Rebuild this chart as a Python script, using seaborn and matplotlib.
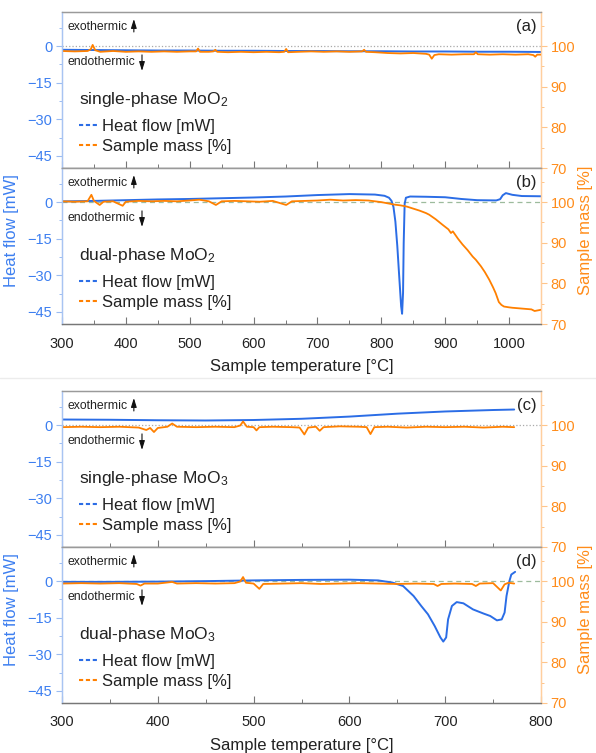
import matplotlib
matplotlib.use("Agg")
import matplotlib.pyplot as plt
from matplotlib.lines import Line2D
from matplotlib.ticker import MultipleLocator, FixedLocator
import seaborn as sns

sns.set_theme(style="white")
plt.rcParams['font.family'] = ['Liberation Sans', 'DejaVu Sans']
plt.rcParams['mathtext.fontset'] = 'custom'
plt.rcParams['mathtext.rm'] = 'Liberation Sans'
plt.rcParams['mathtext.it'] = 'Liberation Sans:italic'

# ---------------- data ----------------
a_hf_T = [300, 350, 400, 450, 500, 550, 600, 650, 700, 750, 800, 850, 900, 950, 1000, 1050]
a_hf = [-1.5, -1.6, -1.7, -1.8, -1.8, -1.9, -1.9, -2.0, -2.0, -2.1, -2.1, -2.2, -2.2, -2.3, -2.3, -2.4]
a_m_T = [300, 320, 340, 345, 348, 352, 360, 380, 400, 420, 440, 460, 480, 500, 510, 513, 516, 530, 537, 540,
         543, 560, 580, 600, 620, 640, 648, 651, 654, 670, 690, 710, 730, 750, 770, 773, 776, 790, 810, 830,
         850, 870, 875, 879, 883, 890, 910, 930, 945, 948, 951, 970, 990, 1010, 1030, 1038, 1041, 1044, 1050]
a_m = [98.8, 98.7, 98.8, 99.2, 100.3, 99.0, 98.6, 98.8, 98.6, 98.7, 98.6, 98.7, 98.6, 98.7, 98.7, 99.4, 98.6,
       98.6, 98.7, 99.1, 98.6, 98.5, 98.6, 98.5, 98.6, 98.5, 98.6, 99.3, 98.5, 98.6, 98.7, 98.6, 98.7, 98.6,
       98.7, 99.1, 98.6, 98.5, 98.3, 98.2, 98.3, 98.1, 97.9, 96.9, 97.8, 98.0, 97.9, 98.0, 98.0, 98.5, 98.0,
       97.9, 98.0, 97.9, 98.0, 97.8, 97.4, 97.9, 97.9]

b_hf_T = [300, 350, 400, 450, 500, 550, 600, 650, 700, 750, 790, 805, 812, 816, 819, 822, 825, 828, 831,
          832.5, 834, 835, 836.5, 838.5, 845, 870, 900, 925, 950, 980, 986, 990, 995, 1005, 1020, 1050]
b_hf = [0.3, 0.5, 0.8, 1.1, 1.3, 1.6, 1.9, 2.3, 2.9, 3.3, 3.1, 2.6, 1.8, 0.5, -2.0, -8.0, -18.0, -30.5,
        -42.7, -45.8, -37.2, -16.9, -0.7, 1.8, 2.3, 2.2, 2.0, 1.3, 0.8, 0.7, 1.2, 2.8, 3.7, 3.0, 2.5, 2.4]
b_m_T = [300, 320, 340, 346, 350, 359, 365, 380, 395, 400, 420, 440, 460, 480, 500, 515, 530, 541, 550,
         570, 590, 610, 630, 651, 660, 680, 700, 720, 740, 760, 780, 800, 810, 820, 830, 840, 850, 860, 870,
         875, 885, 896, 905, 909, 912, 920, 927, 935, 943, 948, 956, 962, 969, 975, 979, 984, 988, 992,
         1000, 1005, 1020, 1035, 1040, 1050]
b_m = [100.2, 100.1, 100.2, 101.8, 100.3, 99.3, 100.1, 100.2, 99.1, 100.1, 100.3, 100.2, 100.3, 100.2,
       100.4, 100.6, 100.2, 99.3, 100.2, 100.3, 100.2, 100.1, 100.3, 99.3, 100.2, 100.3, 100.4, 100.6,
       100.4, 100.5, 100.4, 100.0, 99.7, 99.4, 99.2, 98.9, 98.4, 97.9, 97.3, 96.9, 95.8, 94.4, 93.3, 92.4,
       92.8, 91.0, 89.6, 88.2, 86.6, 85.8, 84.2, 82.8, 80.9, 79.0, 77.6, 75.4, 74.7, 74.3, 74.1, 74.0,
       73.8, 73.6, 73.2, 73.5]

c_hf_T = [300, 350, 400, 450, 500, 550, 600, 650, 700, 750, 772]
c_hf = [2.3, 2.2, 2.0, 1.9, 2.1, 2.6, 3.5, 4.7, 5.6, 6.2, 6.4]
c_m_T = [300, 320, 340, 360, 380, 388, 392, 396, 400, 410, 415, 420, 440, 460, 480, 486, 489, 493, 500,
         503, 506, 520, 540, 548, 553, 557, 565, 569, 573, 590, 610, 618, 622, 626, 640, 660, 680, 700,
         720, 740, 760, 772]
c_m = [99.5, 99.6, 99.5, 99.6, 99.4, 98.8, 99.3, 98.3, 99.3, 99.6, 100.4, 99.6, 99.5, 99.6, 99.5, 99.9,
       100.9, 99.6, 99.5, 98.7, 99.5, 99.6, 99.5, 99.4, 97.7, 99.4, 99.6, 98.6, 99.5, 99.7, 99.6, 99.5,
       97.8, 99.5, 99.6, 99.4, 99.6, 99.5, 99.6, 99.4, 99.6, 99.5]

d_hf_T = [300, 350, 400, 450, 500, 550, 600, 630, 645, 656, 667, 675, 682, 689, 695, 698, 701, 703, 707,
          712, 719, 729, 740, 747, 754, 759, 762, 764, 767, 769, 773]
d_hf = [-0.3, -0.3, -0.2, 0.0, 0.3, 0.5, 0.6, 0.3, -0.6, -2.0, -6.1, -10.2, -13.6, -18.4, -23.1, -24.8,
        -23.1, -15.7, -10.2, -8.6, -9.1, -11.6, -13.3, -14.3, -16.1, -15.7, -12.9, -6.1, 0.0, 2.7, 3.8]
d_m_T = [300, 320, 340, 360, 378, 382, 386, 400, 415, 420, 440, 460, 480, 486, 489, 492, 500, 506, 510,
         530, 550, 570, 590, 610, 630, 650, 670, 688, 692, 696, 710, 728, 732, 736, 750, 758, 762, 766, 772]
d_m = [99.4, 99.5, 99.4, 99.5, 99.3, 98.9, 99.4, 99.4, 99.8, 99.4, 99.5, 99.4, 99.5, 99.9, 101.0, 99.6,
       99.4, 98.1, 99.3, 99.4, 99.5, 99.3, 99.4, 99.5, 99.4, 99.3, 99.4, 99.3, 98.8, 99.3, 99.4, 99.3,
       98.8, 99.4, 99.5, 97.7, 99.2, 99.6, 99.4]

panels = [
    dict(tag="(a)", title="single-phase MoO$_2$", hT=a_hf_T, h=a_hf, mT=a_m_T, m=a_m, xlim=(300, 1050), bottom=False),
    dict(tag="(b)", title="dual-phase MoO$_2$", hT=b_hf_T, h=b_hf, mT=b_m_T, m=b_m, xlim=(300, 1050), bottom=True),
    dict(tag="(c)", title="single-phase MoO$_3$", hT=c_hf_T, h=c_hf, mT=c_m_T, m=c_m, xlim=(300, 800), bottom=False),
    dict(tag="(d)", title="dual-phase MoO$_3$", hT=d_hf_T, h=d_hf, mT=d_m_T, m=d_m, xlim=(300, 800), bottom=True),
]
series_labels = ["Heat flow [mW]", "Sample mass [%]"]
x_label = "Sample temperature [°C]"
hf_label = "Heat flow [mW]"
m_label = "Sample mass [%]"
hf_ticks = [0, -15, -30, -45]
m_ticks = [70, 80, 90, 100]

# ---------------- style ----------------
BLUE = "#2b6de6"
ORANGE = "#ff8000"
BLUE_T = "#3d7ff0"
ORANGE_T = "#ff8c1a"
TXT = "#222222"

W, H = 596, 753
fig = plt.figure(figsize=(W / 100, H / 100), dpi=100)
L = 62 / W
AW = (541 - 62) / W
tops = [12, 168, 391, 547]
ph = 156

arrow_kw = dict(arrowstyle="-|>,head_length=0.45,head_width=0.14", color="#111111", lw=0.8,
                shrinkA=0, shrinkB=0)

for i, p in enumerate(panels):
    top = tops[i]
    ax = fig.add_axes([L, 1 - (top + ph) / H, AW, ph / H])
    ax2 = ax.twinx()
    sns.lineplot(x=p["hT"], y=p["h"], ax=ax, color=BLUE, lw=1.4, estimator=None, sort=False)
    sns.lineplot(x=p["mT"], y=p["m"], ax=ax2, color=ORANGE, lw=1.3, estimator=None, sort=False)
    ax.set_xlim(*p["xlim"])
    ax.set_ylim(-50, 14)
    ax2.set_ylim(70, 108.4)
    zl_col = "#a9a9a9" if not p["bottom"] else "#9dbb9d"
    zl_ls = ":" if not p["bottom"] else (0, (4, 3))
    ax.axhline(0, color=zl_col, lw=0.9, ls=zl_ls, zorder=0)

    ax.yaxis.set_major_locator(FixedLocator(hf_ticks))
    ax.yaxis.set_minor_locator(MultipleLocator(7.5))
    ax2.yaxis.set_major_locator(FixedLocator(m_ticks))
    ax2.yaxis.set_minor_locator(MultipleLocator(5))
    ax.xaxis.set_major_locator(MultipleLocator(100))
    ax.xaxis.set_minor_locator(MultipleLocator(50))

    ax.tick_params(axis="y", which="major", direction="out", length=4, width=0.8, colors="#9bbcf2",
                   labelcolor=BLUE_T, labelsize=10.5, pad=3, left=True)
    ax.tick_params(axis="y", which="minor", direction="out", length=2.5, width=0.7, colors="#9bbcf2", left=True)
    ax2.tick_params(axis="y", which="major", direction="out", length=4, width=0.8, colors="#ffc58a",
                    labelcolor=ORANGE_T, labelsize=10.5, pad=3, right=True)
    ax2.tick_params(axis="y", which="minor", direction="out", length=2.5, width=0.7, colors="#ffc58a", right=True)
    ax.tick_params(axis="x", which="major", direction="in", length=5, width=0.8, colors="#777777",
                   labelcolor=TXT, labelsize=10.5, bottom=True, top=False, pad=9)
    ax.tick_params(axis="x", which="minor", direction="in", length=3, width=0.7, colors="#777777",
                   bottom=True, top=False)
    if not p["bottom"]:
        ax.tick_params(axis="x", labelbottom=False)
    else:
        ax.set_xlabel(x_label, fontsize=12, color=TXT, labelpad=6)
        ax.set_ylabel(hf_label, fontsize=12, color=BLUE_T)
        ax.yaxis.set_label_coords(-0.09, 0.60)
        ax2.set_ylabel(m_label, fontsize=12, color=ORANGE_T, rotation=90)
        ax2.yaxis.set_label_coords(1.077, 0.60)

    for a in (ax, ax2):
        a.spines["left"].set_color("#a8c4f2")
        a.spines["right"].set_color("#ffcf9e")
        a.spines["top"].set_color("#9a9a9a")
        a.spines["bottom"].set_color("#777777")
        for s in a.spines.values():
            s.set_linewidth(0.9)
    ax2.grid(False)
    ax.grid(False)

    ax.text(0.0125, 0.905, "exothermic", transform=ax.transAxes, fontsize=8.8, va="center", ha="left",
            color=TXT)
    ax.annotate("", xy=(0.150, 0.955), xytext=(0.150, 0.872), xycoords="axes fraction", arrowprops=arrow_kw)
    ax.text(0.0125, 0.678, "endothermic", transform=ax.transAxes, fontsize=8.8, va="center", ha="left",
            color=TXT)
    ax.annotate("", xy=(0.167, 0.622), xytext=(0.167, 0.725), xycoords="axes fraction", arrowprops=arrow_kw)
    ax2.text(0.991, 0.905, p["tag"], transform=ax.transAxes, fontsize=12, va="center", ha="right", color=TXT)

    ax2.text(0.035, 0.436, p["title"], transform=ax.transAxes, fontsize=12.5, va="center", ha="left", color=TXT)
    handles = [Line2D([], [], color=BLUE, lw=1.5, ls=(0, (2, 1.3))),
               Line2D([], [], color=ORANGE, lw=1.5, ls=(0, (2, 1.3)))]
    leg = ax2.legend(handles, series_labels, loc="center left",
                     bbox_to_anchor=(0.036, 0.202), frameon=False, fontsize=12,
                     handlelength=1.05, handletextpad=0.3, labelspacing=0.26, borderpad=0,
                     borderaxespad=0)
    for t in leg.get_texts():
        t.set_color(TXT)

# faint separator between the two figure halves
fig.add_artist(Line2D([0, 1], [1 - 378 / H, 1 - 378 / H], transform=fig.transFigure, color="#ececec", lw=1))

fig.savefig("out.png", dpi=100, facecolor="white")
